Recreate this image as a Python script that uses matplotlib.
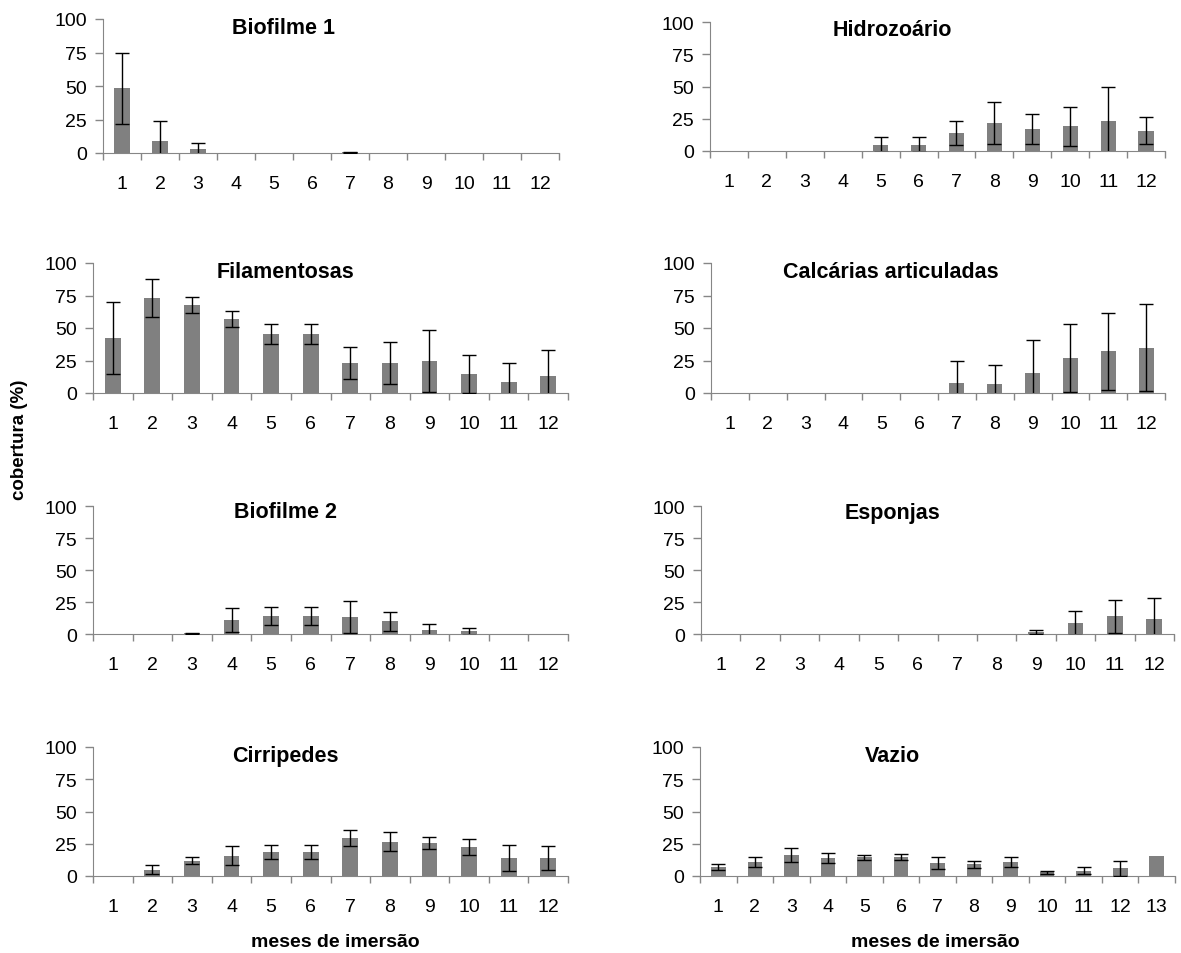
import numpy as np
import matplotlib.pyplot as plt

plt.rcParams['font.family'] = ['Liberation Sans', 'DejaVu Sans']

meses = list(range(1, 13))
meses_vazio = list(range(1, 14))

biofilme1 = [48.5, 9, 3, 0, 0, 0, 0.5, 0, 0, 0, 0, 0]
biofilme1_dp = [26.5, 15, 4.5, 0, 0, 0, 0.5, 0, 0, 0, 0, 0]

hidrozoario = [0, 0, 0, 0, 5, 5, 14, 21.7, 16.8, 19, 23.5, 15.8]
hidrozoario_dp = [0, 0, 0, 0, 6, 6, 9.5, 16, 11.5, 15, 26, 10.7]

filamentosas = [42.5, 73, 67.5, 57, 45.5, 45.5, 23, 23, 24.4, 14.5, 8.7, 12.9]
filamentosas_dp = [27.5, 14.5, 6, 6, 7.5, 7.5, 12.5, 16, 24, 14.5, 14, 20]

calcarias = [0, 0, 0, 0, 0, 0, 8, 6.7, 15.7, 27, 32, 35]
calcarias_dp = [0, 0, 0, 0, 0, 0, 17, 15, 25, 26, 29.5, 33.5]

biofilme2 = [0, 0, 0.5, 10.8, 14, 14, 13, 10, 3, 2, 0, 0]
biofilme2_dp = [0, 0, 0.5, 9.5, 7.2, 7.2, 12.5, 7.3, 4.7, 3, 0, 0]

esponjas = [0, 0, 0, 0, 0, 0, 0, 0, 1.3, 8.8, 13.7, 11.7]
esponjas_dp = [0, 0, 0, 0, 0, 0, 0, 0, 1.5, 9.3, 13.2, 16.5]

cirripedes = [0, 5, 11.9, 15.8, 18.7, 18.7, 29.4, 26.5, 25.5, 22.3, 14, 14]
cirripedes_dp = [0, 3.7, 2.9, 7.4, 5.6, 5.6, 6.3, 7.5, 4.7, 6, 10, 9.5]

vazio = [7, 11, 16, 14, 14.5, 14.7, 10, 9, 11, 3, 4, 6, 15.8]
vazio_dp = [2.6, 3.7, 5.5, 3.9, 2, 2, 4.5, 2.7, 4, 1.2, 2.8, 5.7, 0]

# (titulo, x, y, dp, caixa do eixo em pixels: esquerda, base, direita, topo, centro do titulo)
paineis = [
    ('Biofilme 1', meses, biofilme1, biofilme1_dp, (103, 154, 559, 20), (284, 28)),
    ('Hidrozoário', meses, hidrozoario, hidrozoario_dp, (710, 152, 1165, 23), (892, 31)),
    ('Filamentosas', meses, filamentosas, filamentosas_dp, (93, 394, 568, 264), (286, 273)),
    ('Calcárias articuladas', meses, calcarias, calcarias_dp, (711, 394, 1165, 264), (891, 273)),
    ('Biofilme 2', meses, biofilme2, biofilme2_dp, (93, 635, 568, 507), (286, 513)),
    ('Esponjas', meses, esponjas, esponjas_dp, (701, 635, 1174, 507), (892, 513)),
    ('Cirripedes', meses, cirripedes, cirripedes_dp, (93, 877, 568, 748), (285, 757)),
    ('Vazio', meses_vazio, vazio, vazio_dp, (700, 877, 1175, 748), (892, 757)),
]

W, H = 1181, 954
fig = plt.figure(figsize=(W / 100, H / 100), dpi=100)
eixo_cor = '#868686'

for titulo, x, y, dp, (l, b, r, t), (tx, ty) in paineis:
    ax = fig.add_axes([l / W, 1 - b / H, (r - l) / W, (b - t) / H])
    x = np.array(x)
    y = np.array(y)
    dp = np.array(dp)
    ax.bar(x, y, width=0.4, color='#808080', zorder=2)
    m = dp > 0
    ax.errorbar(x[m], y[m], yerr=dp[m], fmt='none', ecolor='black',
                elinewidth=1, capsize=5, capthick=1, zorder=3)
    ax.set_xlim(0.5, len(x) + 0.5)
    ax.set_ylim(0, 100)
    ax.set_yticks([0, 25, 50, 75, 100])
    ax.set_xticks(x)
    ax.set_xticks(np.arange(0.5, len(x) + 1, 1), minor=True)
    ax.tick_params(axis='x', which='major', length=0, pad=16, labelsize=14)
    ax.tick_params(axis='x', which='minor', length=5, width=1, color=eixo_cor)
    ax.tick_params(axis='y', length=5.5, width=1, color=eixo_cor, pad=6, labelsize=14)
    for s in ['top', 'right']:
        ax.spines[s].set_visible(False)
    for s in ['left', 'bottom']:
        ax.spines[s].set_color(eixo_cor)
    fig.text(tx / W, 1 - ty / H, titulo, ha='center', va='center',
             fontsize=15.5, fontweight='bold')

fig.text(335 / W, 1 - 943 / H, 'meses de imersão', ha='center', va='center',
         fontsize=14, fontweight='bold')
fig.text(935 / W, 1 - 943 / H, 'meses de imersão', ha='center', va='center',
         fontsize=14, fontweight='bold')
fig.text(20 / W, 1 - 440 / H, 'cobertura (%)', ha='center', va='center',
         rotation=90, fontsize=13.5, fontweight='bold')

fig.savefig('out.png', dpi=100)
